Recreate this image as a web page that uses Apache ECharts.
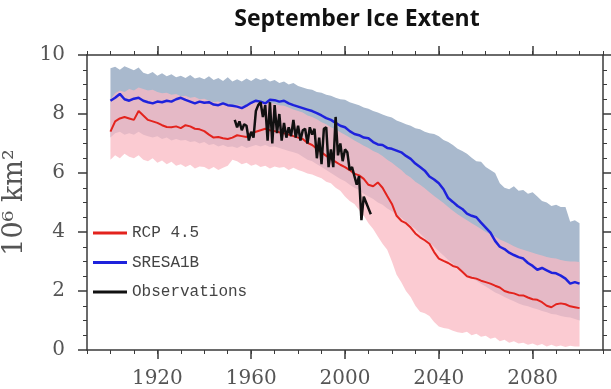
<!DOCTYPE html>
<html>
<head>
<meta charset="utf-8">
<script src="https://cdn.jsdelivr.net/npm/echarts@6/dist/echarts.min.js"></script>
<style>
html,body{margin:0;padding:0;background:#fff;}
#chart{width:611px;height:389px;}
</style>
</head>
<body>
<div id="chart"></div>
<script>
// ---- DATA ----
const modelStart = 1900, modelStep = 2; // model output sampled every 2 years, 1900..2100
const sresMean = [8.45,8.55,8.68,8.5,8.45,8.52,8.55,8.45,8.4,8.36,8.42,8.4,8.45,8.42,8.5,8.55,8.48,8.42,8.36,8.42,8.38,8.4,8.32,8.3,8.36,8.3,8.28,8.25,8.2,8.28,8.38,8.45,8.42,8.36,8.48,8.47,8.42,8.45,8.36,8.3,8.25,8.2,8.15,8.1,8.03,7.95,7.86,7.8,7.7,7.6,7.55,7.42,7.32,7.28,7.2,7.18,7.05,6.97,6.95,6.85,6.82,6.76,6.7,6.58,6.48,6.32,6.2,6.08,5.88,5.78,5.65,5.45,5.15,5.02,4.88,4.78,4.62,4.55,4.5,4.32,4.15,3.98,3.7,3.5,3.42,3.3,3.22,3.15,3.1,2.95,2.85,2.72,2.78,2.7,2.62,2.6,2.52,2.42,2.25,2.3,2.25];
const sresUpper = [9.55,9.6,9.5,9.62,9.55,9.48,9.58,9.4,9.35,9.42,9.3,9.38,9.28,9.35,9.25,9.3,9.22,9.32,9.2,9.25,9.18,9.28,9.15,9.22,9.12,9.25,9.1,9.18,9.1,9.2,9.12,9.22,9.15,9.2,9.1,9.15,9.05,9.1,9.0,9.05,8.95,8.9,8.85,8.82,8.75,8.72,8.65,8.62,8.55,8.5,8.48,8.4,8.35,8.3,8.22,8.18,8.1,8.05,7.98,7.92,7.88,7.78,7.72,7.65,7.6,7.52,7.48,7.4,7.35,7.32,7.25,7.12,7.05,6.95,6.82,6.75,6.65,6.52,6.4,6.38,6.2,6.1,6.0,5.65,5.5,5.45,5.55,5.4,5.42,5.3,5.35,5.2,5.05,5.0,4.88,4.92,4.85,4.85,4.35,4.4,4.3];
const sresLower = [7.2,7.35,7.4,7.3,7.35,7.3,7.4,7.3,7.25,7.2,7.25,7.15,7.2,7.1,7.15,7.1,7.12,7.05,7.08,7.0,7.05,6.95,6.98,6.9,6.95,6.88,6.9,6.85,6.92,6.85,6.9,6.95,6.9,6.95,6.88,6.9,6.85,6.8,6.75,6.7,6.65,6.55,6.45,6.4,6.3,6.2,6.1,6.0,5.9,5.8,5.72,5.6,5.5,5.42,5.3,5.2,5.12,5.0,4.92,4.8,4.7,4.58,4.48,4.35,4.22,4.1,3.95,3.8,3.65,3.5,3.35,3.2,3.05,2.92,2.8,2.68,2.55,2.45,2.35,2.25,2.15,2.05,1.95,1.88,1.8,1.72,1.65,1.58,1.52,1.48,1.42,1.38,1.32,1.28,1.22,1.2,1.15,1.12,1.1,1.05,1.0];
const rcpMean = [7.4,7.75,7.85,7.9,7.85,7.8,8.1,7.95,7.8,7.75,7.7,7.62,7.56,7.55,7.58,7.52,7.62,7.58,7.5,7.48,7.42,7.3,7.2,7.22,7.18,7.15,7.2,7.28,7.25,7.22,7.35,7.4,7.45,7.5,7.45,7.42,7.38,7.35,7.3,7.25,7.2,7.15,7.02,6.95,6.82,6.7,6.58,6.48,6.38,6.28,6.2,6.1,5.98,5.92,5.8,5.6,5.55,5.68,5.5,5.22,4.95,4.55,4.38,4.3,4.15,3.95,3.82,3.72,3.6,3.32,3.1,3.02,2.95,2.85,2.8,2.65,2.5,2.45,2.42,2.35,2.3,2.25,2.18,2.12,2.0,1.95,1.92,1.86,1.85,1.78,1.72,1.7,1.62,1.5,1.45,1.55,1.58,1.55,1.48,1.45,1.42];
const rcpUpper = [8.5,8.7,8.8,8.75,8.85,8.8,8.9,8.85,8.8,8.82,8.75,8.7,8.72,8.65,8.68,8.6,8.62,8.55,8.58,8.5,8.52,8.45,8.4,8.42,8.35,8.35,8.3,8.32,8.28,8.3,8.35,8.4,8.38,8.35,8.38,8.35,8.3,8.28,8.22,8.15,8.1,8.05,7.95,7.9,7.82,7.72,7.65,7.55,7.48,7.38,7.3,7.2,7.1,7.02,6.92,6.85,6.75,6.68,6.58,6.45,6.35,6.22,6.1,5.95,5.85,5.7,5.6,5.48,5.35,5.22,5.1,4.98,4.85,4.72,4.6,4.5,4.4,4.3,4.2,4.1,4.0,3.92,3.85,3.75,3.68,3.6,3.52,3.45,3.4,3.35,3.3,3.25,3.2,3.15,3.12,3.1,3.05,3.02,3.0,3.0,2.98];
const rcpLower = [6.45,6.6,6.5,6.65,6.55,6.5,6.6,6.45,6.4,6.5,6.35,6.42,6.3,6.38,6.25,6.3,6.2,6.28,6.15,6.22,6.2,6.12,6.2,6.1,6.18,6.25,6.45,6.4,6.3,6.35,6.25,6.3,6.2,6.25,6.15,6.22,6.18,6.2,6.1,6.18,6.1,6.05,5.98,5.95,5.88,5.82,5.7,5.65,5.5,5.4,5.2,5.05,4.95,4.75,4.55,4.3,4.1,3.85,3.6,3.4,3.0,2.55,2.3,2.0,1.8,1.5,1.3,1.25,1.15,0.95,0.8,0.75,0.72,0.65,0.6,0.58,0.62,0.5,0.55,0.45,0.48,0.38,0.42,0.3,0.35,0.25,0.3,0.22,0.25,0.18,0.22,0.15,0.2,0.12,0.18,0.12,0.15,0.1,0.14,0.12,0.12];
const obsStart = 1953; // annual observations 1953..2011
const obsValues = [7.8,7.55,7.75,7.45,7.65,7.6,7.1,7.4,7.2,8.1,8.3,8.4,7.9,8.3,7.1,8.4,7.0,8.3,7.35,8.0,7.1,7.7,7.2,7.55,7.25,7.8,7.2,7.6,7.1,7.45,7.5,7.0,7.55,7.3,7.5,6.5,7.2,6.3,7.5,7.55,6.2,6.8,6.2,7.9,6.6,7.0,6.4,6.8,6.7,6.1,6.2,5.9,5.6,5.9,4.4,5.2,5.0,4.8,4.6];
const xLabelYears = [1920,1960,2000,2040,2080];
const legendNames = ['RCP 4.5','SRESA1B','Observations'];

// ---- BUILD ----
const modelYears = sresMean.map((_, i) => modelStart + i * modelStep);
const pairs = (arr) => arr.map((v, i) => [modelYears[i], v]);
const obsPairs = obsValues.map((v, i) => [obsStart + i, v]);

const AX = '#3a3a3a', TXT = '#555';
const serif = 'DejaVu Serif';

function xAxisBase(pos, major) {
  return {
    type: 'value', min: 1890, max: 2110, position: pos,
    splitLine: {show: false},
    axisLine: {show: major, lineStyle: {color: AX, width: 1.5}},
    axisTick: major ? {show: true, customValues: xLabelYears, length: 9, lineStyle: {color: AX, width: 1.5}}
                    : {show: true, length: 4, lineStyle: {color: AX, width: 1}},
    interval: major ? undefined : 10,
    axisLabel: (major && pos === 'bottom') ? {show: true, customValues: xLabelYears, formatter: v => String(v),
                                             fontFamily: serif, fontSize: 20, color: TXT, margin: 19}
                                           : {show: false}
  };
}
function yAxisBase(pos) {
  const o = {
    type: 'value', min: 0, max: 10, interval: 2, position: pos,
    splitLine: {show: false},
    axisLine: {show: true, lineStyle: {color: AX, width: 1.5}},
    axisTick: {show: true, length: 9, lineStyle: {color: AX, width: 1.5}},
    minorTick: {show: true, splitNumber: 4, length: 4, lineStyle: {color: AX, width: 1}},
    axisLabel: pos === 'left' ? {show: true, fontFamily: serif, fontSize: 20, color: TXT, margin: 22} : {show: false}
  };
  if (pos === 'left') {
    o.name = '10\u2076 km\u00b2';
    o.nameLocation = 'middle';
    o.nameRotate = 90;
    o.nameGap = 50;
    o.nameTextStyle = {fontFamily: serif, fontSize: 27, color: TXT};
  }
  return o;
}

function bandSeries(upper, lower, fill, z) {
  const rows = upper.map((u, i) => [modelYears[i], lower[i], u]);
  return {
    type: 'custom', data: rows, z: z, silent: true, clip: true,
    encode: {x: 0, y: [1, 2]},
    renderItem: (params, api) => {
      if (params.dataIndexInside !== 0) return {type: 'group', children: []};
      const n = params.dataInsideLength;
      const top = [], bot = [];
      for (let i = 0; i < n; i++) {
        top.push(api.coord([api.value(0, i), api.value(2, i)]));
        bot.push(api.coord([api.value(0, i), api.value(1, i)]));
      }
      return {type: 'polygon', shape: {points: top.concat(bot.reverse())}, style: {fill: fill}};
    }
  };
}

const option = {
  animation: false,
  backgroundColor: '#fff',
  title: {
    text: 'September Ice Extent', left: 352, top: 3, textAlign: 'center',
    textStyle: {fontFamily: 'Open Sans', fontWeight: 'bold', fontSize: 23, color: '#111'}
  },
  grid: {left: 87, right: 8, top: 55, bottom: 39, outerBoundsMode: 'none', containLabel: false},
  legend: {
    data: legendNames, orient: 'vertical', left: 93, top: 225, padding: 0,
    icon: 'rect', itemWidth: 34, itemHeight: 3, itemGap: 13.5,
    textStyle: {fontFamily: 'Liberation Mono', fontSize: 16, color: '#444', lineHeight: 16}
  },
  xAxis: [xAxisBase('bottom', true), xAxisBase('bottom', false), xAxisBase('top', true), xAxisBase('top', false)],
  yAxis: [yAxisBase('left'), yAxisBase('right')],
  series: [
    bandSeries(sresUpper, sresLower, '#a9b9cd', 1),
    bandSeries(rcpUpper, rcpLower, 'rgba(250,186,195,0.75)', 2),
    {name: 'RCP 4.5', type: 'line', data: pairs(rcpMean), symbol: 'none', color: '#e3231d', lineStyle: {width: 2, color: '#e3231d'}, z: 3},
    {name: 'SRESA1B', type: 'line', data: pairs(sresMean), symbol: 'none', color: '#1e22dc', lineStyle: {width: 2.5, color: '#1e22dc'}, z: 4},
    {name: 'Observations', type: 'line', data: obsPairs, symbol: 'none', color: '#111', lineStyle: {width: 2.5, color: '#111'}, z: 5}
  ]
};
const chart = echarts.init(document.getElementById('chart'), null, {renderer: 'canvas'});
chart.setOption(option);
</script>
</body>
</html>
